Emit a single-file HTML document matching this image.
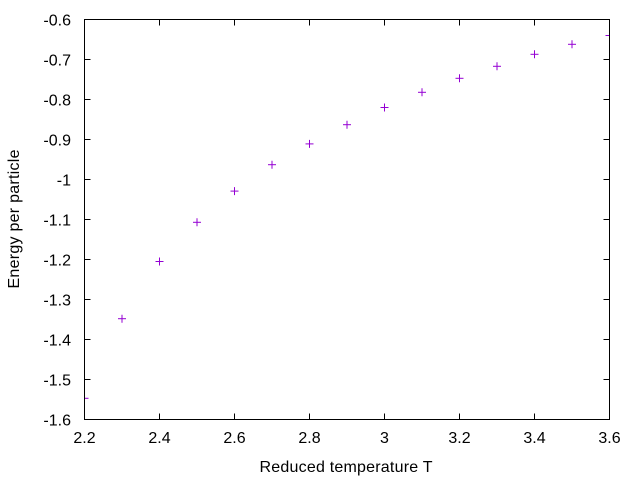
<!DOCTYPE html>
<html><head><meta charset="utf-8"><style>
body{margin:0;background:#fff}
svg text{font-family:"Liberation Sans",sans-serif;font-size:16px;fill:#000}
</style></head><body>
<svg width="640" height="480">
<defs><clipPath id="pc"><rect x="84" y="19" width="526" height="401"/></clipPath></defs>
<g id="axes"></g>
<g id="pts" clip-path="url(#pc)"></g>
<rect x="84.5" y="19.5" width="525" height="400" fill="none" stroke="#000" stroke-width="1"/>
<text x="346" y="472" text-anchor="middle" textLength="173">Reduced temperature T</text>
<text transform="translate(19,219) rotate(-90)" text-anchor="middle" textLength="139">Energy per particle</text>
</svg>
<script>
const temps=[2.2,2.3,2.4,2.5,2.6,2.7,2.8,2.9,3.0,3.1,3.2,3.3,3.4,3.5,3.6];
const energy=[-1.547,-1.348,-1.205,-1.107,-1.029,-0.963,-0.911,-0.863,-0.82,-0.782,-0.747,-0.717,-0.687,-0.662,-0.64];
const xTicks=[2.2,2.4,2.6,2.8,3,3.2,3.4,3.6];
const xTickLabels=["2.2","2.4","2.6","2.8","3","3.2","3.4","3.6"];
const yTicks=[-0.6,-0.7,-0.8,-0.9,-1,-1.1,-1.2,-1.3,-1.4,-1.5,-1.6];
const yTickLabels=["-0.6","-0.7","-0.8","-0.9","-1","-1.1","-1.2","-1.3","-1.4","-1.5","-1.6"];
const X0=84.5,X1=609.5,Y0=419.5,Y1=19.5;
const sx=v=>X0+(v-2.2)/(3.6-2.2)*(X1-X0);
const sy=v=>Y0+(v+1.6)/(1.0)*(Y1-Y0);
const NS="http://www.w3.org/2000/svg";
const ax=document.getElementById('axes'),pg=document.getElementById('pts');
function ln(p,x1,y1,x2,y2,c){const l=document.createElementNS(NS,'line');l.setAttribute('x1',x1);l.setAttribute('y1',y1);l.setAttribute('x2',x2);l.setAttribute('y2',y2);l.setAttribute('stroke',c);p.appendChild(l);return l;}
xTicks.forEach((t,i)=>{
 const a=ln(ax,sx(t),Y0,sx(t),Y0-6,'#000');


 const b=ln(ax,sx(t),Y1,sx(t),Y1+6,'#000');


 const tx=document.createElementNS(NS,'text');tx.setAttribute('x',sx(t));tx.setAttribute('y',443);tx.setAttribute('text-anchor','middle');tx.textContent=xTickLabels[i];


 ax.appendChild(tx);});
yTicks.forEach((t,i)=>{
 const a=ln(ax,X0,sy(t),X0+6,sy(t),'#000');


 const b=ln(ax,X1,sy(t),X1-6,sy(t),'#000');


 const tx=document.createElementNS(NS,'text');tx.setAttribute('x',71);tx.setAttribute('y',sy(t)+6);tx.setAttribute('text-anchor','end');tx.textContent=yTickLabels[i];


 ax.appendChild(tx);});
temps.forEach((t,i)=>{const x=sx(t),y=sy(energy[i]);
 const g=document.createElementNS(NS,'g');


 ln(g,x-4,y,x+4,y,'#9400d3');ln(g,x,y-4,x,y+4,'#9400d3');pg.appendChild(g);});
</script>
</body></html>
